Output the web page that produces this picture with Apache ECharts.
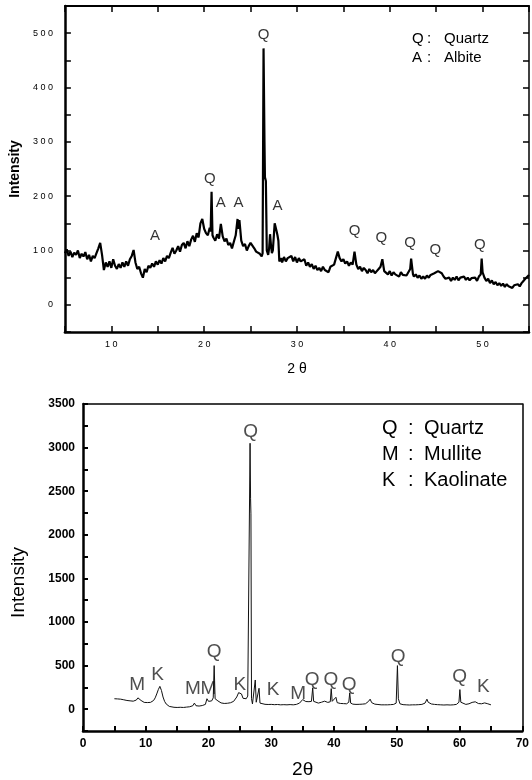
<!DOCTYPE html>
<html>
<head>
<meta charset="utf-8">
<script src="https://cdn.jsdelivr.net/npm/echarts@6/dist/echarts.min.js"></script>
<style>
  html, body { margin: 0; padding: 0; background: #fff; }
  #root { width: 532px; height: 780px; }
</style>
</head>
<body>
<div id="root"></div>
<script>
// upper pattern: [2θ, intensity]
const patternA = [
  [5.0, 95], [5.2, 102], [5.4, 90], [5.6, 98], [5.8, 88], [6.0, 96], [6.2, 92], [6.4, 100], [6.6, 86], [6.8, 94],
  [7.0, 89], [7.2, 97], [7.4, 84], [7.6, 92], [7.8, 80], [8.0, 90], [8.2, 86], [8.4, 95], [8.6, 104], [8.8, 114],
  [9.0, 92], [9.2, 64], [9.4, 78], [9.6, 70], [9.8, 80], [10.0, 68], [10.2, 84], [10.4, 72], [10.6, 66], [10.8, 75],
  [11.0, 68], [11.2, 78], [11.4, 70], [11.6, 80], [11.8, 72], [12.0, 84], [12.2, 90], [12.4, 101], [12.6, 78], [12.8, 66],
  [13.0, 70], [13.2, 58], [13.4, 50], [13.6, 66], [13.8, 60], [14.0, 72], [14.2, 68], [14.4, 76], [14.6, 70], [14.8, 80],
  [15.0, 74], [15.2, 82], [15.4, 76], [15.6, 86], [15.8, 80], [16.0, 90], [16.2, 86], [16.4, 96], [16.6, 105], [16.8, 94],
  [17.0, 100], [17.2, 108], [17.4, 98], [17.6, 110], [17.8, 114], [18.0, 104], [18.2, 117], [18.4, 108], [18.6, 120], [18.8, 127],
  [19.0, 116], [19.2, 132], [19.4, 124], [19.6, 150], [19.8, 158], [20.0, 140], [20.2, 132], [20.4, 128], [20.6, 142], [20.7, 135],
  [20.8, 208], [20.9, 128], [21.0, 124], [21.2, 118], [21.4, 130], [21.6, 122], [21.8, 149], [22.0, 126], [22.2, 117], [22.4, 122],
  [22.6, 110], [22.8, 114], [23.0, 104], [23.2, 116], [23.4, 128], [23.6, 158], [23.7, 140], [23.8, 156], [24.0, 118], [24.2, 108],
  [24.4, 112], [24.6, 100], [24.8, 108], [25.0, 114], [25.2, 117], [25.4, 104], [25.6, 98], [25.8, 100], [26.0, 94], [26.2, 89],
  [26.3, 95], [26.4, 472], [26.5, 300], [26.55, 235], [26.65, 228], [26.75, 100], [26.9, 92], [27.0, 104], [27.1, 130], [27.2, 110],
  [27.3, 95], [27.4, 100], [27.6, 150], [27.8, 136], [27.9, 128], [28.0, 118], [28.1, 80], [28.3, 86], [28.4, 78], [28.6, 88],
  [28.8, 80], [29.0, 86], [29.2, 83], [29.4, 90], [29.6, 80], [29.8, 88], [30.0, 78], [30.2, 86], [30.4, 80], [30.6, 77],
  [30.8, 84], [31.0, 72], [31.2, 78], [31.4, 70], [31.6, 75], [31.8, 66], [32.0, 72], [32.2, 64], [32.4, 68], [32.6, 62],
  [32.8, 70], [33.0, 64], [33.2, 66], [33.4, 60], [33.6, 70], [33.8, 67], [34.0, 74], [34.2, 72], [34.4, 98], [34.6, 86],
  [34.8, 80], [35.0, 84], [35.2, 76], [35.4, 80], [35.6, 72], [35.8, 78], [36.0, 74], [36.2, 98], [36.4, 74], [36.6, 66],
  [36.8, 70], [37.0, 62], [37.2, 68], [37.4, 64], [37.6, 58], [37.8, 66], [38.0, 60], [38.2, 64], [38.4, 58], [38.6, 62],
  [38.8, 66], [39.0, 70], [39.2, 84], [39.4, 62], [39.6, 60], [39.8, 56], [40.0, 62], [40.2, 54], [40.4, 60], [40.6, 56],
  [40.8, 58], [41.0, 52], [41.2, 60], [41.4, 55], [41.6, 58], [41.8, 54], [42.0, 60], [42.2, 66], [42.3, 85], [42.5, 56],
  [42.6, 52], [42.8, 56], [43.0, 50], [43.2, 54], [43.4, 48], [43.6, 52], [43.8, 48], [44.0, 54], [44.2, 50], [44.4, 55],
  [44.6, 52], [44.8, 58], [45.0, 56], [45.2, 62], [45.4, 64], [45.6, 58], [45.8, 52], [46.0, 48], [46.2, 45], [46.4, 50],
  [46.6, 44], [46.8, 50], [47.0, 46], [47.2, 52], [47.4, 45], [47.6, 50], [47.8, 47], [48.0, 52], [48.2, 46], [48.4, 50],
  [48.6, 45], [48.8, 49], [49.0, 46], [49.2, 50], [49.4, 44], [49.6, 52], [49.8, 56], [49.9, 85], [50.0, 60], [50.2, 50],
  [50.4, 44], [50.6, 48], [50.8, 40], [51.0, 45], [51.2, 38], [51.4, 42], [51.6, 36], [51.8, 40], [52.0, 35], [52.2, 39],
  [52.4, 33], [52.6, 38], [52.8, 34], [53.0, 37], [53.2, 31], [53.4, 36], [53.6, 33], [53.8, 38], [54.0, 34], [54.2, 40],
  [54.4, 44], [54.6, 48], [54.8, 46], [55.0, 55]
]

// lower pattern: [2θ, intensity]
const patternB = [
  [5.0, 120], [5.25, 125], [5.5, 118], [5.75, 128], [6.0, 115], [6.25, 120], [6.5, 108], [6.75, 112], [7.0, 100], [7.25, 104],
  [7.5, 96], [7.75, 100], [8.0, 92], [8.25, 98], [8.5, 105], [8.75, 130], [9.0, 145], [9.25, 100], [9.5, 82], [9.75, 78],
  [10.0, 80], [10.25, 76], [10.5, 82], [10.75, 78], [11.0, 86], [11.25, 100], [11.5, 130], [11.75, 175], [12.0, 225], [12.25, 262],
  [12.5, 215], [12.75, 140], [13.0, 90], [13.25, 60], [13.5, 42], [13.75, 32], [14.0, 26], [14.5, 22], [15.0, 20], [15.5, 22],
  [16.0, 20], [16.5, 24], [17.0, 28], [17.5, 40], [17.75, 70], [18.0, 40], [18.5, 36], [19.0, 42], [19.5, 55], [19.75, 120],
  [20.0, 90], [20.25, 80], [20.5, 95], [20.75, 130], [20.9, 500], [21.05, 120], [21.25, 100], [21.5, 95], [21.75, 80], [22.0, 72],
  [22.5, 66], [23.0, 68], [23.5, 74], [24.0, 90], [24.5, 140], [24.8, 190], [25.0, 205], [25.25, 175], [25.5, 125], [25.75, 108],
  [26.0, 120], [26.25, 150], [26.5, 170], [26.62, 3050], [26.7, 2420], [26.76, 2240], [26.85, 120], [27.0, 60], [27.2, 70], [27.45, 335],
  [27.6, 80], [27.8, 65], [28.05, 240], [28.2, 70], [28.5, 58], [29.0, 56], [29.5, 54], [30.0, 55], [30.5, 52], [31.0, 54],
  [31.5, 50], [32.0, 52], [32.5, 50], [33.0, 53], [33.5, 50], [34.0, 55], [34.5, 70], [35.0, 110], [35.25, 95], [35.5, 88],
  [36.0, 86], [36.4, 90], [36.6, 245], [36.75, 90], [37.0, 72], [37.5, 70], [38.0, 80], [38.5, 92], [39.0, 78], [39.4, 85],
  [39.55, 236], [39.7, 90], [40.0, 80], [40.3, 137], [40.5, 75], [41.0, 66], [41.5, 64], [42.0, 62], [42.35, 80], [42.5, 187],
  [42.65, 70], [43.0, 58], [43.5, 55], [44.0, 56], [44.5, 58], [45.0, 62], [45.5, 90], [45.75, 115], [46.0, 75], [46.5, 58],
  [47.0, 54], [47.5, 50], [48.0, 50], [48.5, 50], [49.0, 52], [49.5, 55], [49.9, 70], [50.1, 500], [50.25, 120], [50.5, 62],
  [51.0, 52], [51.5, 50], [52.0, 48], [52.5, 50], [53.0, 50], [53.5, 52], [54.0, 55], [54.5, 70], [54.8, 115], [55.0, 80],
  [55.5, 60], [56.0, 55], [56.5, 52], [57.0, 50], [57.5, 48], [58.0, 50], [58.5, 48], [59.0, 50], [59.5, 55], [59.9, 80],
  [60.05, 225], [60.2, 80], [60.5, 60], [61.0, 55], [61.5, 62], [62.0, 78], [62.5, 85], [63.0, 65], [63.5, 62], [64.0, 72],
  [64.25, 88], [64.5, 62], [65.0, 50]
]

// phase marks [2θ, intensity, letter]
const peaksA = [
  [26.4, 496, 'Q'], [20.6, 231, 'Q'], [14.7, 127, 'A'], [21.8, 187, 'A'], [23.7, 187, 'A'], [27.9, 183, 'A'],
  [36.2, 136, 'Q'], [39.1, 124, 'Q'], [42.2, 114, 'Q'], [44.9, 102, 'Q'], [49.7, 111, 'Q']
]
const peaksB = [
  [26.7, 3184, 'Q'], [8.65, 277, 'M'], [11.9, 392, 'K'], [17.5, 238, 'M'], [20.0, 238, 'M'], [20.9, 662, 'Q'],
  [25.0, 277, 'K'], [30.3, 219, 'K'], [34.3, 180, 'M'], [36.5, 334, 'Q'], [39.5, 334, 'Q'], [42.4, 277, 'Q'],
  [50.2, 604, 'Q'], [60.0, 373, 'Q'], [63.8, 257, 'K']
]

const legendA = [['Q', 'Quartz'], ['A', 'Albite']]
const legendB = [['Q', 'Quartz'], ['M', 'Mullite'], ['K', 'Kaolinate']]

const FONT = 'Liberation Sans'
const spaced = v => String(v).split('').join(' ')

const chart = echarts.init(document.getElementById('root'), null, { renderer: 'canvas' })

const frameLine = w => ({ show: true, onZero: false, lineStyle: { color: '#000', width: w } })

const legendText = (rows, x, y0, dy, size) => {
  const els = []
  rows.forEach((r, i) => {
    const y = y0 + i * dy
    const st = { fill: '#000', font: `${size}px "${FONT}"`, textVerticalAlign: 'middle' }
    els.push({ type: 'text', left: x.a, top: y - size / 2, style: { ...st, text: r[0] } })
    els.push({ type: 'text', left: x.c, top: y - size / 2, style: { ...st, text: ':' } })
    els.push({ type: 'text', left: x.w, top: y - size / 2, style: { ...st, text: r[1] } })
  })
  return els
}

const peakLabels = (size, color) => ({
  show: true, position: 'inside', color, fontSize: size, fontFamily: FONT,
  formatter: p => p.value[2]
})

const option = {
  animation: false,
  backgroundColor: '#fff',
  grid: [
    { left: 63, top: 6, width: 467, height: 326 },
    { left: 83, top: 404, width: 448, height: 330 }
  ],
  xAxis: [
    {
      type: 'value', gridIndex: 0, position: 'bottom', min: 5, max: 55, interval: 5,
      axisLine: frameLine(2.5),
      axisTick: { inside: true, length: 6, lineStyle: { color: '#000', width: 1.5 } },
      axisLabel: {
        margin: 8, color: '#000', fontSize: 9, fontFamily: FONT,
        formatter: v => (v % 10 === 0 ? spaced(v) : '')
      },
      splitLine: { show: false },
      name: '2 θ', nameLocation: 'middle', nameGap: 30,
      nameTextStyle: { color: '#000', fontSize: 14, fontFamily: FONT }
    },
    {
      type: 'value', gridIndex: 0, position: 'top', min: 5, max: 55, interval: 5,
      axisLine: frameLine(2),
      axisTick: { inside: true, length: 6, lineStyle: { color: '#000', width: 1.5 } },
      axisLabel: { show: false },
      splitLine: { show: false }
    },
    {
      type: 'value', gridIndex: 1, position: 'bottom', min: 0, max: 70, interval: 5,
      axisLine: frameLine(2.5),
      axisTick: { inside: true, length: 5, lineStyle: { color: '#000', width: 2 } },
      axisLabel: {
        margin: 7, color: '#000', fontSize: 12, fontWeight: 'bold', fontFamily: FONT,
        formatter: v => (v % 10 === 0 ? String(v) : '')
      },
      splitLine: { show: false },
      name: '2θ', nameLocation: 'middle', nameGap: 29,
      nameTextStyle: { color: '#000', fontSize: 19, fontFamily: FONT }
    },
    {
      type: 'value', gridIndex: 1, position: 'top', min: 0, max: 70,
      axisLine: frameLine(1.5),
      axisTick: { show: false },
      axisLabel: { show: false },
      splitLine: { show: false }
    }
  ],
  yAxis: [
    {
      type: 'value', gridIndex: 0, position: 'left', min: -50, max: 550, interval: 50,
      axisLine: frameLine(2.5),
      axisTick: { inside: true, length: 6, lineStyle: { color: '#000', width: 1.5 } },
      axisLabel: {
        margin: 12, color: '#000', fontSize: 9, fontFamily: FONT,
        formatter: v => (v >= 0 && v <= 500 && v % 100 === 0 ? spaced(v) : '')
      },
      splitLine: { show: false },
      name: 'Intensity', nameLocation: 'middle', nameGap: 38,
      nameTextStyle: { color: '#000', fontSize: 14, fontWeight: 'bold', fontFamily: FONT }
    },
    {
      type: 'value', gridIndex: 0, position: 'right', min: -50, max: 550, interval: 50,
      axisLine: frameLine(1.5),
      axisTick: { inside: true, length: 6, lineStyle: { color: '#000', width: 1.5 } },
      axisLabel: { show: false },
      splitLine: { show: false }
    },
    {
      type: 'value', gridIndex: 1, position: 'left', min: -250, max: 3500, interval: 250,
      axisLine: frameLine(2.5),
      axisTick: { inside: true, length: 5, lineStyle: { color: '#000', width: 2 } },
      axisLabel: {
        margin: 8, color: '#000', fontSize: 12, fontWeight: 'bold', fontFamily: FONT,
        formatter: v => (v >= 0 && v % 500 === 0 ? String(v) : '')
      },
      splitLine: { show: false },
      name: 'Intensity', nameLocation: 'middle', nameGap: 55,
      nameTextStyle: { color: '#000', fontSize: 19, fontFamily: FONT, padding: [0, 30, 0, 0] }
    },
    {
      type: 'value', gridIndex: 1, position: 'right', min: -250, max: 3500,
      axisLine: frameLine(1.5),
      axisTick: { show: false },
      axisLabel: { show: false },
      splitLine: { show: false }
    }
  ],
  graphic: [
    ...legendText(legendA, { a: 412, c: 427, w: 444 }, 39, 19, 15),
    ...legendText(legendB, { a: 382, c: 408, w: 424 }, 428, 26, 20)
  ],
  series: [
    {
      type: 'line', xAxisIndex: 0, yAxisIndex: 0, data: patternA,
      showSymbol: false, symbol: 'none', silent: true,
      lineStyle: { color: '#000', width: 2.2 }
    },
    {
      type: 'line', xAxisIndex: 2, yAxisIndex: 2, data: patternB,
      showSymbol: false, symbol: 'none', silent: true,
      lineStyle: { color: '#111', width: 1 }
    },
    {
      type: 'scatter', xAxisIndex: 0, yAxisIndex: 0, data: peaksA,
      symbolSize: 1, itemStyle: { color: 'rgba(0,0,0,0)' }, silent: true,
      label: peakLabels(15, '#000')
    },
    {
      type: 'scatter', xAxisIndex: 2, yAxisIndex: 2, data: peaksB,
      symbolSize: 1, itemStyle: { color: 'rgba(0,0,0,0)' }, silent: true,
      label: peakLabels(19, '#222')
    }
  ]
}

chart.setOption(option)
</script>
</body>
</html>
